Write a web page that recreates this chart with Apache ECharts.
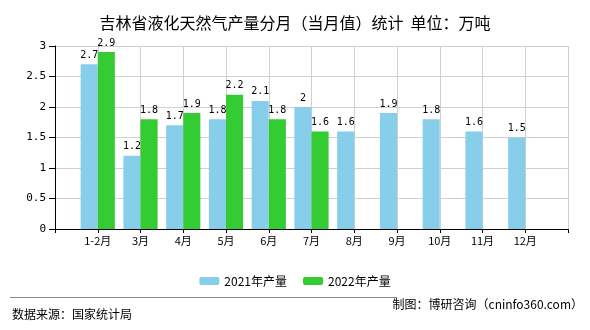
<!DOCTYPE html>
<html>
<head>
<meta charset="utf-8">
<script src="https://cdn.jsdelivr.net/npm/echarts@6/dist/echarts.min.js"></script>
<style>
  html, body { margin: 0; padding: 0; background: #fff; }
  #chart { width: 590px; height: 330px; }
</style>
</head>
<body>
<div id="chart"></div>
<script>
// Monthly LNG output, Jilin province (10k tonnes)
const months = ['1-2月', '3月', '4月', '5月', '6月', '7月', '8月', '9月', '10月', '11月', '12月'];
const output2021 = [2.7, 1.2, 1.7, 1.8, 2.1, 2, 1.6, 1.9, 1.8, 1.6, 1.5];
const output2022 = [2.9, 1.8, 1.9, 2.2, 1.8, 1.6, null, null, null, null, null];
const seriesNames = ['2021年产量', '2022年产量'];
const yTicks = { min: 0, max: 3, interval: 0.5 };

// Pad an empty slot at each end so month ticks sit on grid lines
const axisCats = [''].concat(months, ['']);
const pad = arr => [null].concat(arr, [null]);

const monoFont = '"DejaVu Sans Mono", "Liberation Mono", monospace';
const cjkFont = '"Noto Sans CJK SC", sans-serif';

const chart = echarts.init(document.getElementById('chart'));
chart.setOption({
  animation: false,
  title: {
    text: '吉林省液化天然气产量分月（当月值）统计  单位：万吨',
    left: 'center',
    top: 10,
    textStyle: { fontFamily: cjkFont, fontSize: 16, fontWeight: 'normal', color: '#000' }
  },
  legend: {
    data: seriesNames,
    left: 'center',
    top: 270,
    itemWidth: 20,
    itemHeight: 8,
    itemGap: 16,
    textStyle: { fontFamily: cjkFont, fontSize: 12, color: '#000' }
  },
  grid: { left: 55, right: 22, top: 46, bottom: 101 },
  xAxis: {
    type: 'category',
    data: axisCats,
    boundaryGap: false,
    axisLine: { lineStyle: { color: '#000', width: 1 } },
    axisTick: { show: true, length: 4, lineStyle: { color: '#000' } },
    splitLine: { show: true, lineStyle: { color: '#d0d0d0' } },
    axisLabel: { interval: 0, color: '#000', fontFamily: cjkFont, fontSize: 11, margin: 6 }
  },
  yAxis: {
    type: 'value',
    min: yTicks.min,
    max: yTicks.max,
    interval: yTicks.interval,
    axisLine: { show: true, lineStyle: { color: '#000' } },
    axisTick: { show: true, length: 6, lineStyle: { color: '#000' } },
    splitLine: { lineStyle: { color: '#d0d0d0' } },
    axisLabel: { color: '#000', fontFamily: monoFont, fontSize: 11, margin: 9 }
  },
  series: [
    {
      name: seriesNames[0],
      type: 'bar',
      data: pad(output2021),
      barWidth: '40%',
      barGap: '0%',
      itemStyle: { color: '#87CEEB' },
      label: { show: true, position: 'top', distance: 4, color: '#000', fontFamily: monoFont, fontSize: 10 }
    },
    {
      name: seriesNames[1],
      type: 'bar',
      data: pad(output2022),
      barWidth: '40%',
      barGap: '0%',
      itemStyle: { color: '#33CC33' },
      label: { show: true, position: 'top', distance: 4, color: '#000', fontFamily: monoFont, fontSize: 10 }
    }
  ],
  graphic: [
    {
      type: 'line',
      shape: { x1: 10, y1: 297.5, x2: 397, y2: 297.5 },
      style: { stroke: '#888', lineWidth: 1 }
    },
    {
      type: 'text',
      left: 12,
      top: 308,
      style: { text: '数据来源：国家统计局', fontFamily: cjkFont, fontSize: 12, fill: '#000' }
    },
    {
      type: 'text',
      right: 7,
      top: 298,
      style: { text: '制图：博研咨询（cninfo360.com）', fontFamily: cjkFont, fontSize: 12, fill: '#000' }
    }
  ]
});
</script>
</body>
</html>
